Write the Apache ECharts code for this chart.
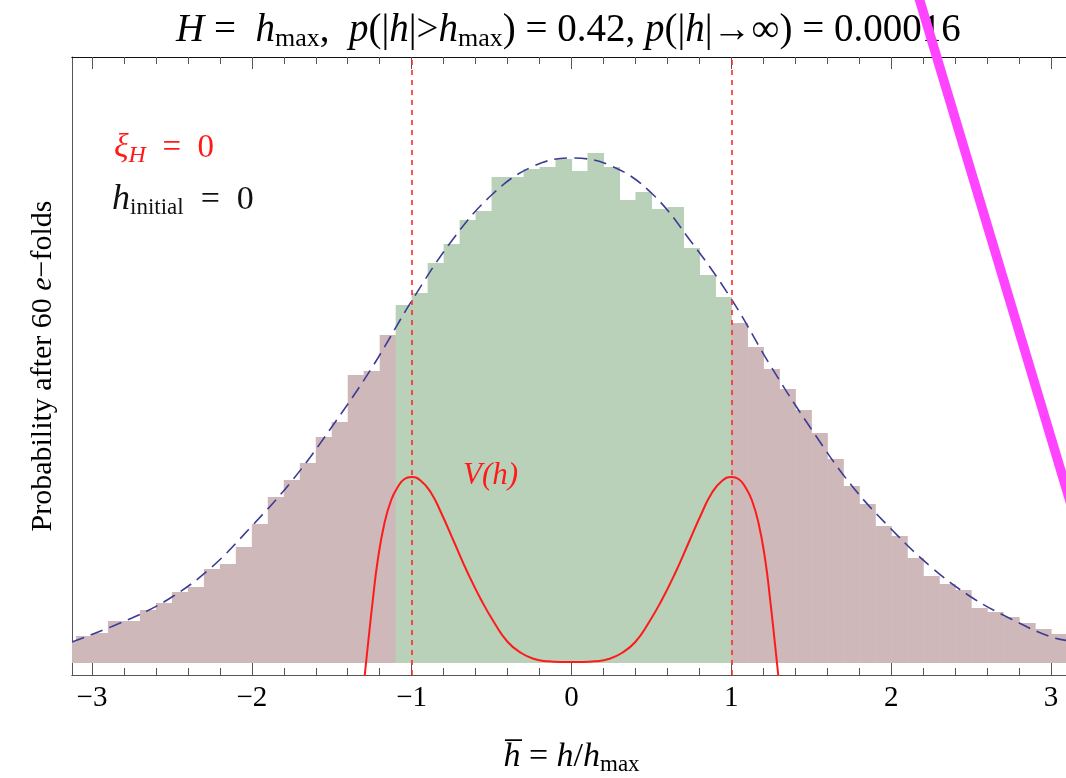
<!DOCTYPE html>
<html><head><meta charset="utf-8">
<script src="https://cdn.jsdelivr.net/npm/echarts@6/dist/echarts.min.js"></script>
<style>html,body{margin:0;padding:0;background:#fff}#c{width:1066px;height:778px}</style>
</head><body><div id="c"></div>
<script>
// ---- data ----
// histogram bins: lower edges (bin width 0.1) and heights (arbitrary probability units)
const binLower = [-3.2,-3.1,-3.0,-2.9,-2.8,-2.7,-2.6,-2.5,-2.4,-2.3,-2.2,-2.1,-2.0,-1.9,-1.8,-1.7,-1.6,-1.5,-1.4,-1.3,-1.2,-1.1,
  -1.0,-0.9,-0.8,-0.7,-0.6,-0.5,-0.4,-0.3,-0.2,-0.1,0.0,0.1,0.2,0.3,0.4,0.5,0.6,0.7,0.8,0.9,
  1.0,1.1,1.2,1.3,1.4,1.5,1.6,1.7,1.8,1.9,2.0,2.1,2.2,2.3,2.4,2.5,2.6,2.7,2.8,2.9,3.0,3.1];
const binWidth = 0.1;
const binHeight = [21,27,30,42,42,53,60,71,76,94,99,116,139,166,183,200,226,241,288,292,328,358,
  370,400,419,443,452,486,486,494,496,504,492,510,496,463,471,454,456,415,388,366,
  340,316,294,274,253,230,204,177,159,137,127,105,87,79,73,55,51,46,40,34,29,26];
const greenFrom = -1.1, greenTo = 1.0;   // bins inside the barrier region

// dashed fitted distribution
const fitX = [-3.125,-2.75,-2.5,-2.25,-2.0,-1.75,-1.5,-1.25,-1.0,-0.75,-0.5,-0.25,0,0.25,0.5,0.75,1.0,1.25,1.5,1.75,2.0,2.25,2.5,2.75,3.0,3.125];
const fitY = [21,45,66,96,137,182,236,295,362,422,468,496,505,497,470,421,364,296,234,178,134,96,66,44,26,22];

// potential V(h) (same arbitrary vertical units)
const potX = [-1.30,-1.275,-1.243,-1.212,-1.17,-1.128,-1.087,-1.045,-1.0,-0.941,-0.878,-0.815,-0.732,-0.649,-0.565,-0.482,-0.399,-0.315,-0.232,-0.148,-0.07,0,
  0.07,0.148,0.232,0.315,0.399,0.482,0.565,0.649,0.732,0.815,0.878,0.941,1.0,1.045,1.087,1.128,1.17,1.212,1.243,1.275,1.30];
const potY = [-22,16,63,103,140,163,176,184,186,182,170,150,120,90,63,40,21,10,4,1.7,1,1,
  1,1.7,4,10,21,40,63,90,120,150,170,182,186,184,176,163,140,103,63,16,-22];

const thresholds = [-1, 1];
const majorTicks = [-3,-2,-1,0,1,2,3];
const minorTicks = [-3,-2.8,-2.6,-2.4,-2.2,-2,-1.8,-1.6,-1.4,-1.2,-1,-0.8,-0.6,-0.4,-0.2,0,0.2,0.4,0.6,0.8,1,1.2,1.4,1.6,1.8,2,2.2,2.4,2.6,2.8,3];
// magenta overlay stroke (data coordinates)
const strokeX = [2.146, 3.235];
const strokeY = [680, 100];

// ---- chart ----
const serif = "'Liberation Serif', 'DejaVu Serif', serif";
const GREEN = '#b9d0b9', BROWN = '#cfb8b9';
const XMIN = -3.125, XMAX = 3.125, YMIN = -12, YMAX = 606;

function xAx(pos, ticks, len, labels, lineColor, name) {
  const a = {
    type: 'value', position: pos, min: XMIN, max: XMAX,
    axisLine: { show: true, onZero: false, lineStyle: { color: lineColor, width: 1 } },
    axisTick: { show: true, inside: true, length: len, customValues: ticks, lineStyle: { color: '#555', width: 1 } },
    axisLabel: { show: labels, customValues: majorTicks, margin: 9, fontFamily: serif, fontSize: 29, color: '#000',
      formatter: v => v < 0 ? '\u2212' + Math.abs(v) : String(v) },
    splitLine: { show: false }
  };
  if (name) Object.assign(a, name);
  return a;
}

const chart = echarts.init(document.getElementById('c'));
chart.setOption({
  animation: false,
  backgroundColor: '#fff',
  title: {
    text: '{i|H} =  {i|h}{s|max},  {i|p}(|{i|h}|>{i|h}{s|max}) = 0.42, {i|p}(|{i|h}|\u2192\u221e) = 0.00016',
    left: 171, top: 3,
    textStyle: {
      fontFamily: serif, fontSize: 39, fontWeight: 'normal', color: '#000', lineHeight: 46,
      rich: {
        i: { fontFamily: serif, fontSize: 39, fontStyle: 'italic', color: '#000', lineHeight: 46 },
        s: { fontFamily: serif, fontSize: 26, color: '#000', lineHeight: 46, padding: [16, 0, 0, 0] }
      }
    }
  },
  grid: { left: 72, top: 57, width: 999, height: 618, containLabel: false, outerBoundsMode: 'none' },
  xAxis: [
    xAx('bottom', majorTicks, 12, true, '#555', {
      name: '{i|h\u0305} = {i|h}/{i|h}{s|max}', nameLocation: 'middle', nameGap: 62,
      nameTextStyle: { fontFamily: serif, fontSize: 34, color: '#000', lineHeight: 40,
        rich: { i: { fontFamily: serif, fontSize: 34, fontStyle: 'italic', color: '#000', lineHeight: 40 },
                s: { fontFamily: serif, fontSize: 23, color: '#000', lineHeight: 40, padding: [16,0,0,0] } } }
    }),
    xAx('bottom', minorTicks, 7, false, '#555'),
    xAx('top', majorTicks, 12, false, '#111'),
    xAx('top', minorTicks, 7, false, '#111')
  ],
  yAxis: [{
    type: 'value', min: YMIN, max: YMAX,
    axisLine: { show: true, onZero: false, lineStyle: { color: '#555' } },
    axisTick: { show: false }, axisLabel: { show: false }, splitLine: { show: false },
    name: 'Probability after 60 {e|e}\u2212folds', nameLocation: 'middle', nameRotate: 90, nameGap: 14,
    nameTextStyle: { fontFamily: serif, fontSize: 30, color: '#000',
      rich: { e: { fontFamily: serif, fontSize: 30, fontStyle: 'italic', color: '#000' } } }
  }],
  graphic: [
    { type: 'text', x: 114, y: 148, z: 100,
      style: { text: '{a|\u03be}{b|H}\u2002=\u20020', fill: '#ff1a1a', font: "33px 'Liberation Serif'", verticalAlign: 'middle',
        rich: { a: { fill: '#ff1a1a', fontFamily: serif, fontSize: 34, fontStyle: 'italic' },
                b: { fill: '#ff1a1a', fontFamily: serif, fontSize: 24, fontStyle: 'italic', padding: [16,0,0,0] } } } },
    { type: 'text', x: 112, y: 200, z: 100,
      style: { text: '{a|h}{b|initial}\u2002=\u20020', fill: '#111', font: "34px 'Liberation Serif'", verticalAlign: 'middle',
        rich: { a: { fill: '#111', fontFamily: serif, fontSize: 36, fontStyle: 'italic' },
                b: { fill: '#111', fontFamily: serif, fontSize: 23, padding: [16,0,0,0] } } } },
    { type: 'text', x: 463, y: 476, z: 100,
      style: { text: 'V(h)', fill: '#ff1a1a', font: "italic 31px 'Liberation Serif'", verticalAlign: 'middle' } }
  ],
  series: [
    {
      type: 'custom', name: 'histogram', clip: true, z: 1,
      dimensions: ['x0', 'x1', 'p'],
      encode: { x: [0, 1], y: 2 },
      data: binLower.map((x0, i) => [x0, +(x0 + binWidth).toFixed(2), binHeight[i]]),
      renderItem: (params, api) => {
        const x0 = api.value(0), x1 = api.value(1), h = api.value(2);
        const a = api.coord([x0, h]), b = api.coord([x1, 0]);
        const inGreen = x0 >= greenFrom - 1e-6 && x1 <= greenTo + 1e-6;
        return { type: 'rect', shape: { x: a[0], y: a[1], width: b[0] - a[0] + 0.6, height: b[1] - a[1] },
          style: { fill: inGreen ? GREEN : BROWN } };
      }
    },
    {
      type: 'line', name: 'fit', z: 3, smooth: 0.4, symbol: 'none', clip: true,
      data: fitX.map((x, i) => [x, fitY[i]]),
      lineStyle: { color: '#3c3c96', width: 1.6, type: [13, 7] }
    },
    {
      type: 'line', name: 'V(h)', z: 4, smooth: true, symbol: 'none', clip: true,
      data: potX.map((x, i) => [x, potY[i]]),
      lineStyle: { color: '#ff1a1a', width: 2 },
      markLine: {
        silent: true, symbol: 'none', label: { show: false },
        lineStyle: { color: '#ff2a2a', width: 1.6, type: [5, 5] },
        data: thresholds.map(v => ({ xAxis: v }))
      }
    },
    {
      type: 'line', name: 'stroke', z: 10, symbol: 'none', clip: false,
      data: strokeX.map((x, i) => [x, strokeY[i]]),
      lineStyle: { color: '#ff44ff', width: 9.5 }
    }
  ]
});
</script></body></html>
